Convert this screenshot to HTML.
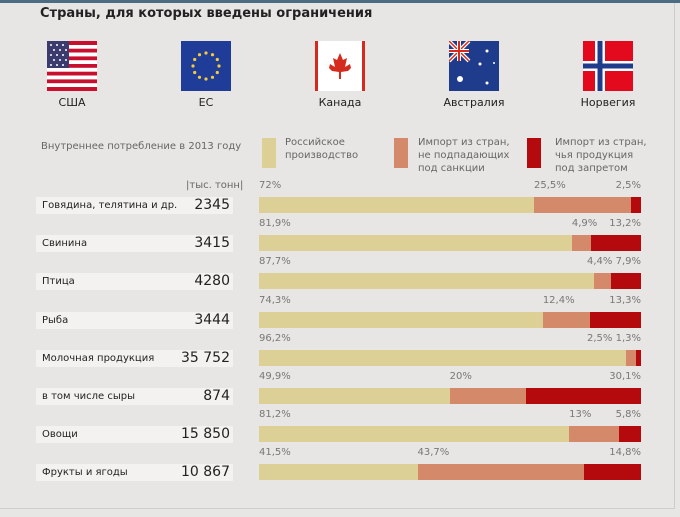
<!DOCTYPE html>
<html><head><meta charset="utf-8">
<style>
body{margin:0;width:680px;height:517px;background:#e8e6e4;font-family:"DejaVu Sans","Liberation Sans",sans-serif;position:relative;overflow:hidden;color:#222}
.a{position:absolute}
.flag{position:absolute;top:41px;width:50px;height:50px}
.fl{position:absolute;top:96px;font-size:11px;width:100px;text-align:center}
.lg{position:absolute;top:136px;font-size:10px;color:#666;line-height:13px}
.sw{position:absolute;top:138px;width:14px;height:30px}
.pct{position:absolute;font-size:10px;color:#777;white-space:nowrap}
.strip{position:absolute;left:36px;width:197px;height:17px;background:#f3f2f0}
.rl{position:absolute;left:42px;font-size:10px;line-height:17px}
.rv{position:absolute;right:450px;font-size:14px;line-height:17px}
</style></head><body>
<div class="a" style="left:0;top:0;width:680px;height:3px;background:#4d6c82"></div>
<div class="a" style="left:674px;top:3px;width:1px;height:505px;background:#cfcdcb"></div>
<div class="a" style="left:0;top:508px;width:675px;height:1px;background:#cfcdcb"></div>
<div class="a" style="left:40px;top:6px;font-size:13px;font-weight:bold">Страны, для которых введены ограничения</div>

<svg class="flag" style="left:47px" viewBox="0 0 50 50">
<rect width="50" height="50" fill="#fff"/>
<g fill="#c8102e"><rect y="0" width="50" height="4"/><rect y="7.7" width="50" height="3.8"/><rect y="15.4" width="50" height="3.8"/><rect y="23" width="50" height="3.8"/><rect y="30.7" width="50" height="3.8"/><rect y="38.4" width="50" height="3.8"/><rect y="46" width="50" height="4"/></g>
<rect width="22" height="27" fill="#3c3b6e"/>
<g fill="#fff"><circle cx="4" cy="4" r="1"/><circle cx="10" cy="4" r="1"/><circle cx="16" cy="4" r="1"/><circle cx="7" cy="9" r="1"/><circle cx="13" cy="9" r="1"/><circle cx="19" cy="9" r="1"/><circle cx="4" cy="14" r="1"/><circle cx="10" cy="14" r="1"/><circle cx="16" cy="14" r="1"/><circle cx="7" cy="19" r="1"/><circle cx="13" cy="19" r="1"/><circle cx="19" cy="19" r="1"/><circle cx="4" cy="24" r="1"/><circle cx="10" cy="24" r="1"/><circle cx="16" cy="24" r="1"/></g>
</svg>
<svg class="flag" style="left:181px" viewBox="0 0 50 50">
<rect width="50" height="50" fill="#1f3c99"/>
<g fill="#f2cc3a"><circle cx="25" cy="12" r="1.6"/><circle cx="31.5" cy="13.7" r="1.6"/><circle cx="36.3" cy="18.5" r="1.6"/><circle cx="38" cy="25" r="1.6"/><circle cx="36.3" cy="31.5" r="1.6"/><circle cx="31.5" cy="36.3" r="1.6"/><circle cx="25" cy="38" r="1.6"/><circle cx="18.5" cy="36.3" r="1.6"/><circle cx="13.7" cy="31.5" r="1.6"/><circle cx="12" cy="25" r="1.6"/><circle cx="13.7" cy="18.5" r="1.6"/><circle cx="18.5" cy="13.7" r="1.6"/></g>
</svg>
<svg class="flag" style="left:315px" viewBox="0 0 50 50">
<rect width="50" height="50" fill="#fff"/><rect width="3" height="50" fill="#d52b1e"/><rect x="47" width="3" height="50" fill="#d52b1e"/>
<path d="M25 12 L28 19 L32 17 L30 26 L35 23 L36 27 L33 30 L26 31 L26 38 L24 38 L24 31 L17 30 L14 27 L15 23 L20 26 L18 17 L22 19 Z" fill="#d52b1e"/>
</svg>
<svg class="flag" style="left:449px" viewBox="0 0 50 50">
<rect width="50" height="50" fill="#1f3c8c"/>
<path d="M0 0L20 20M20 0L0 20" stroke="#fff" stroke-width="4"/><path d="M0 0L20 20M20 0L0 20" stroke="#d52b1e" stroke-width="1.5"/>
<rect x="8" width="4" height="20" fill="#fff"/><rect y="8" width="20" height="4" fill="#fff"/>
<rect x="9" width="2" height="20" fill="#d52b1e"/><rect y="9" width="20" height="2" fill="#d52b1e"/>
<g fill="#fff"><circle cx="11" cy="38" r="3"/><circle cx="38" cy="10" r="1.5"/><circle cx="31" cy="23" r="1.5"/><circle cx="45" cy="22" r="1"/><circle cx="38" cy="42" r="1.5"/></g>
</svg>
<svg class="flag" style="left:583px" viewBox="0 0 50 50">
<rect width="50" height="50" fill="#e30a1e"/><rect x="12" width="10" height="50" fill="#fff"/><rect y="20" width="50" height="10" fill="#fff"/>
<rect x="14.5" width="5" height="50" fill="#1f3c8c"/><rect y="22.5" width="50" height="5" fill="#1f3c8c"/>
</svg>
<div class="fl" style="left:22px">США</div>
<div class="fl" style="left:156px">ЕС</div>
<div class="fl" style="left:290px">Канада</div>
<div class="fl" style="left:424px">Австралия</div>
<div class="fl" style="left:558px">Норвегия</div>

<div class="a" style="left:41px;top:141px;font-size:10px;color:#666">Внутреннее потребление в 2013 году</div>
<div class="sw" style="left:262px;background:#ddd096"></div>
<div class="lg" style="left:285px">Российское<br>производство</div>
<div class="sw" style="left:394px;background:#d4896a"></div>
<div class="lg" style="left:418px">Импорт из стран,<br>не подпадающих<br>под санкции</div>
<div class="sw" style="left:527px;background:#b50a0d"></div>
<div class="lg" style="left:555px">Импорт из стран,<br>чья продукция<br>под запретом</div>
<div class="a" style="left:186px;top:180px;font-size:10px;color:#666">|тыс. тонн|</div>

<div id="rows"></div>
<script>
const categories=["Говядина, телятина и др.","Свинина","Птица","Рыба","Молочная продукция","в том числе сыры","Овощи","Фрукты и ягоды"];
const volumes=["2345","3415","4280","3444","35 752","874","15 850","10 867"];
const russian=[72,81.9,87.7,74.3,96.2,49.9,81.2,41.5];
const allowed=[25.5,4.9,4.4,12.4,2.5,20,13,43.7];
const banned=[2.5,13.2,7.9,13.3,1.3,30.1,5.8,14.8];
const X0=259,W=382,Y0=197,STEP=38.2,H=16;
const xs=p=>p/100*W;
const fmt=v=>String(v).replace('.',',')+'%';
const root=document.getElementById('rows');
function div(cls,style,text){const d=document.createElement('div');d.className=cls;d.style.cssText=style;if(text!==undefined)d.textContent=text;root.appendChild(d);return d;}
categories.forEach((c,i)=>{
  const y=Y0+i*STEP;
  const s=div('strip','top:'+y+'px');
  
  
  const l=div('rl','top:'+y+'px',c);
  
  
  const v=div('rv','top:'+y+'px',volumes[i]);
  
  
  const total=russian[i]+allowed[i]+banned[i];
  const a=xs(russian[i]/total*100),b=xs(allowed[i]/total*100),r=W-a-b;
  const segs=[[0,a,'#ddd096','bar-russian'],[a,b,'#d4896a','bar-allowed'],[a+b,r,'#b50a0d','bar-banned']];
  segs.forEach(sg=>{
    const d=div('a','left:'+(X0+sg[0])+'px;top:'+y+'px;width:'+sg[1]+'px;height:'+H+'px;background:'+sg[2]);
    
    
  });
  const py=y-17;
  const p1=div('pct','left:'+X0+'px;top:'+py+'px',fmt(russian[i]));
  
  
  const p3=div('pct','right:'+(680-(X0+W))+'px;top:'+py+'px',fmt(banned[i]));
  
  
  const p2=div('pct','left:'+(X0+a)+'px;top:'+py+'px',fmt(allowed[i]));
  
  
  const lim=p3.offsetLeft-4-p2.offsetWidth;
  if(p2.offsetLeft>lim)p2.style.left=lim+'px';
});
</script>
</body></html>
